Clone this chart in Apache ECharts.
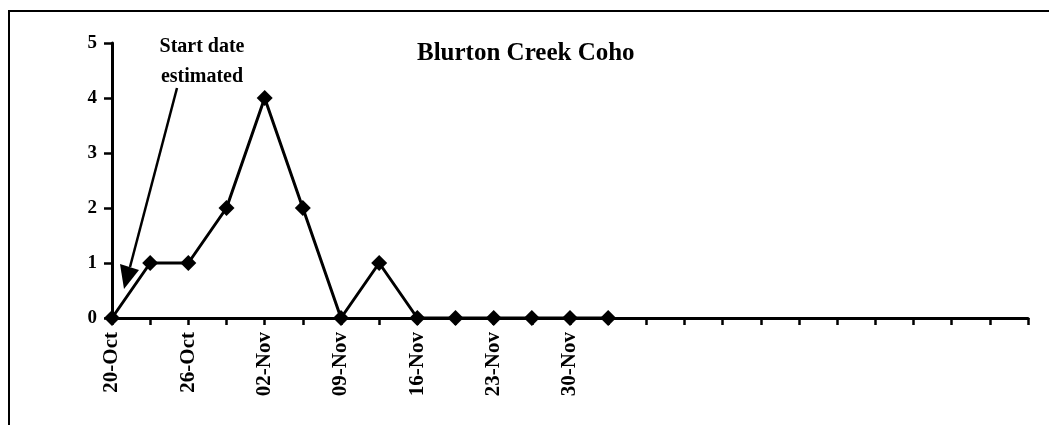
<!DOCTYPE html>
<html>
<head>
<meta charset="utf-8">
<style>
  html, body { margin: 0; padding: 0; background: #fff; }
  #chart { width: 1049px; height: 425px; }
</style>
<script src="https://cdn.jsdelivr.net/npm/echarts@6/dist/echarts.min.js"></script>
</head>
<body>
<div id="chart"></div>
<script>
// Survey dates (one category per visit); only some are labelled on the axis
const categories = [
  '20-Oct', '23-Oct', '26-Oct', '30-Oct', '02-Nov', '06-Nov', '09-Nov',
  '13-Nov', '16-Nov', '20-Nov', '23-Nov', '27-Nov', '30-Nov', '04-Dec',
  '07-Dec', '11-Dec', '14-Dec', '18-Dec', '21-Dec', '25-Dec', '28-Dec',
  '01-Jan', '04-Jan', '08-Jan', '11-Jan'
];
// Coho counts per survey
const cohoCounts = [0, 1, 1, 2, 4, 2, 0, 1, 0, 0, 0, 0, 0, 0];
// Dates printed under the x axis
const tickLabels = ['20-Oct', '26-Oct', '02-Nov', '09-Nov', '16-Nov', '23-Nov', '30-Nov'];
const yTicks = [0, 1, 2, 3, 4, 5];

const FONT = '"Liberation Serif", "Times New Roman", serif';

const chart = echarts.init(document.getElementById('chart'), null, { renderer: 'canvas' });

chart.setOption({
  animation: false,
  backgroundColor: '#fff',
  title: {
    text: 'Blurton Creek Coho',
    left: 417,
    top: 41,
    padding: 0,
    textStyle: { fontFamily: FONT, fontWeight: 'bold', fontSize: 25, color: '#000' }
  },
  grid: { left: 112, right: 21, top: 43, bottom: 107, containLabel: false },
  xAxis: {
    type: 'category',
    data: categories,
    boundaryGap: false,
    axisLine: { lineStyle: { color: '#000', width: 3 } },
    axisTick: { show: true, interval: 0, length: 7, lineStyle: { color: '#000', width: 2.5 } },
    axisLabel: {
      interval: 0,
      rotate: 90,
      margin: 14,
      fontFamily: FONT,
      fontWeight: 'bold',
      fontSize: 21,
      color: '#000',
      formatter: v => (tickLabels.includes(v) ? v : '')
    },
    splitLine: { show: false }
  },
  yAxis: {
    type: 'value',
    min: yTicks[0],
    max: yTicks[yTicks.length - 1],
    interval: 1,
    axisLine: { show: true, lineStyle: { color: '#000', width: 3 } },
    axisTick: { show: true, length: 8, lineStyle: { color: '#000', width: 2.5 } },
    axisLabel: {
      margin: 15,
      fontFamily: FONT,
      fontWeight: 'bold',
      fontSize: 19,
      color: '#000'
    },
    splitLine: { show: false }
  },
  series: [{
    type: 'line',
    data: cohoCounts,
    symbol: 'diamond',
    symbolSize: 16,
    showAllSymbol: true,
    lineStyle: { color: '#000', width: 3 },
    itemStyle: { color: '#000' },
    z: 5
  }],
  graphic: [
    // page frame
    {
      type: 'rect',
      shape: { x: 9, y: 11, width: 1100, height: 500 },
      style: { fill: 'none', stroke: '#000', lineWidth: 2 },
      silent: true
    },
    // annotation text
    {
      type: 'text',
      style: {
        text: 'Start date\nestimated',
        x: 202,
        y: 32,
        align: 'center',
        verticalAlign: 'top',
        font: 'bold 20px ' + FONT,
        lineHeight: 30,
        fill: '#000'
      }
    },
    // annotation arrow shaft
    {
      type: 'line',
      shape: { x1: 177, y1: 88, x2: 130, y2: 267 },
      style: { stroke: '#000', lineWidth: 2.5 }
    },
    // annotation arrow head
    {
      type: 'polygon',
      shape: { points: [[124, 289], [120, 264], [139, 270]] },
      style: { fill: '#000' }
    }
  ]
});
</script>
</body>
</html>
